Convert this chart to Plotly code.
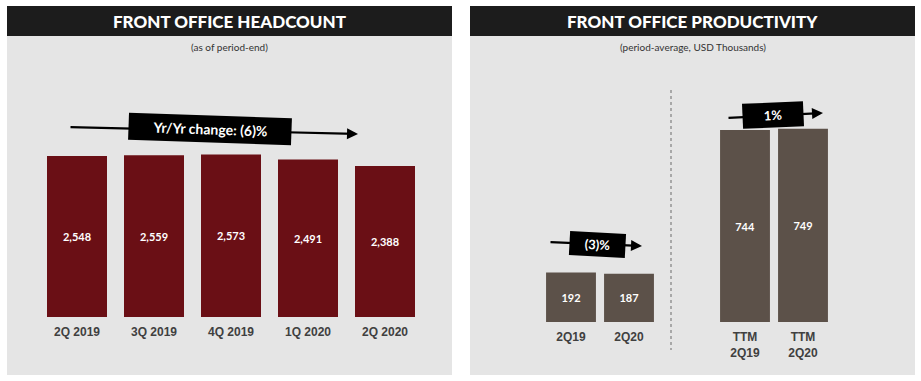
import plotly.graph_objects as go

W, H = 921, 381

# ---- data ----
hc_categories = ["2Q 2019", "3Q 2019", "4Q 2019", "1Q 2020", "2Q 2020"]
hc_values = [2548, 2559, 2573, 2491, 2388]
hc_change = "Yr/Yr change: (6)%"

prod_categories = ["2Q19", "2Q20", "TTM<br>2Q19", "TTM<br>2Q20"]
prod_positions = [0, 1, 3, 4]
prod_values = [192, 187, 744, 749]
prod_change_q = "(3)%"
prod_change_ttm = "1%"

titles = ["FRONT OFFICE HEADCOUNT", "FRONT OFFICE PRODUCTIVITY"]
subtitles = ["(as of period-end)", "(period-average, USD Thousands)"]

MAROON = "#6a0f15"
BROWN = "#5c5149"
PANEL = "#e5e5e5"
BAR_TITLE = "#1c1c1c"
TICK_FONT = dict(family="Liberation Sans, Arial", size=12, color="#404040", weight="bold")
LABEL_FONT = dict(family="Lato, Open Sans", size=11, color="white", weight="bold")


def px(x):
    return x / W


def py(y):
    return (H - y) / H


fig = go.Figure()

fig.add_trace(go.Bar(
    x=hc_categories, y=hc_values, marker_color=MAROON, marker_line_width=0,
    text=[f"{v:,}" for v in hc_values], textposition="inside",
    insidetextanchor="middle", textfont=LABEL_FONT, textangle=0,
    xaxis="x", yaxis="y", hoverinfo="skip", showlegend=False,
))

fig.add_trace(go.Bar(
    x=prod_positions, y=prod_values, marker_color=BROWN, marker_line_width=0,
    width=0.86,
    text=[f"{v:,}" for v in prod_values], textposition="inside",
    insidetextanchor="middle", textfont=LABEL_FONT, textangle=0,
    xaxis="x2", yaxis="y2", hoverinfo="skip", showlegend=False,
))

# left axes: bar pitch 77 px, first bar centre at x=77
fig.update_layout(
    xaxis=dict(domain=[px(38.5), px(423.5)], range=[-0.5, 4.5],
               showgrid=False, zeroline=False, showline=False, ticks="",
               tickfont=TICK_FONT, ticklabelstandoff=6, anchor="y", fixedrange=True),
    yaxis=dict(domain=[py(317), py(57)], range=[0, 260 / 0.0632],
               visible=False, fixedrange=True),
    xaxis2=dict(domain=[px(542), px(832)], range=[-0.5, 4.5],
                tickvals=prod_positions, ticktext=prod_categories,
                showgrid=False, zeroline=False, showline=False, ticks="",
                tickfont=TICK_FONT, ticklabelstandoff=6, anchor="y2", fixedrange=True),
    yaxis2=dict(domain=[py(322), py(57)], range=[0, 265 / 0.258],
                visible=False, fixedrange=True),
    bargap=17 / 77,
)

shapes = []
# panels
for x0, x1 in [(7, 452), (470, 915)]:
    shapes.append(dict(type="rect", xref="paper", yref="paper",
                       x0=px(x0), x1=px(x1), y0=py(375), y1=py(36),
                       fillcolor=PANEL, line_width=0, layer="below"))
    shapes.append(dict(type="rect", xref="paper", yref="paper",
                       x0=px(x0), x1=px(x1), y0=py(36), y1=py(6),
                       fillcolor=BAR_TITLE, line_width=0, layer="below"))
# dotted divider
shapes.append(dict(type="line", xref="paper", yref="paper",
                   x0=px(671), x1=px(671), y0=py(90), y1=py(350),
                   line=dict(color="#a8a8a8", width=2, dash="dot"), layer="below"))

annotations = []
for (x0, x1), t, s in zip([(7, 452), (470, 915)], titles, subtitles):
    cx = px((x0 + x1) / 2)
    annotations.append(dict(xref="paper", yref="paper", x=cx, y=py(21), text=t,
                            showarrow=False,
                            font=dict(family="Lato", size=17, color="white", weight=900),
                            xanchor="center", yanchor="middle"))
    annotations.append(dict(xref="paper", yref="paper", x=cx, y=py(47), text=s,
                            showarrow=False, font=dict(family="Lato", size=10, color="#333333"),
                            xanchor="center", yanchor="middle"))


def arrow(tail, head):
    return dict(xref="paper", yref="paper", x=px(head[0]), y=py(head[1]),
                ax=tail[0] - head[0], ay=tail[1] - head[1],
                axref="pixel", ayref="pixel", text="", showarrow=True,
                arrowhead=2, arrowsize=1, arrowwidth=2.2, arrowcolor="black", standoff=0)


def box(center, text, width, height, angle, size):
    return dict(xref="paper", yref="paper", x=px(center[0]), y=py(center[1]),
                text=f"<b>{text}</b>", showarrow=False, bgcolor="black",
                font=dict(family="Lato", size=size, color="white"),
                width=width, height=height, textangle=angle, borderpad=2,
                xanchor="center", yanchor="middle")


annotations.append(arrow((69, 127), (358, 134)))
annotations.append(box((210, 129), hc_change, 158, 22, 2, 14))
annotations.append(arrow((549, 242), (642, 246)))
annotations.append(box((597, 244), prod_change_q, 51, 19, 3, 13))
annotations.append(arrow((727, 118), (823, 113)))
annotations.append(box((773, 115), prod_change_ttm, 56, 20, -2.5, 13))

fig.update_layout(
    width=W, height=H, margin=dict(l=0, r=0, t=0, b=0),
    paper_bgcolor="white", plot_bgcolor="rgba(0,0,0,0)",
    shapes=shapes, annotations=annotations,
    uniformtext=dict(minsize=8, mode="show"),
)

fig.write_html(
    "out.html",
    config={"displayModeBar": False, "staticPlot": True},
    post_script="document.body.style.margin='0';document.body.style.overflow='hidden';",
)
